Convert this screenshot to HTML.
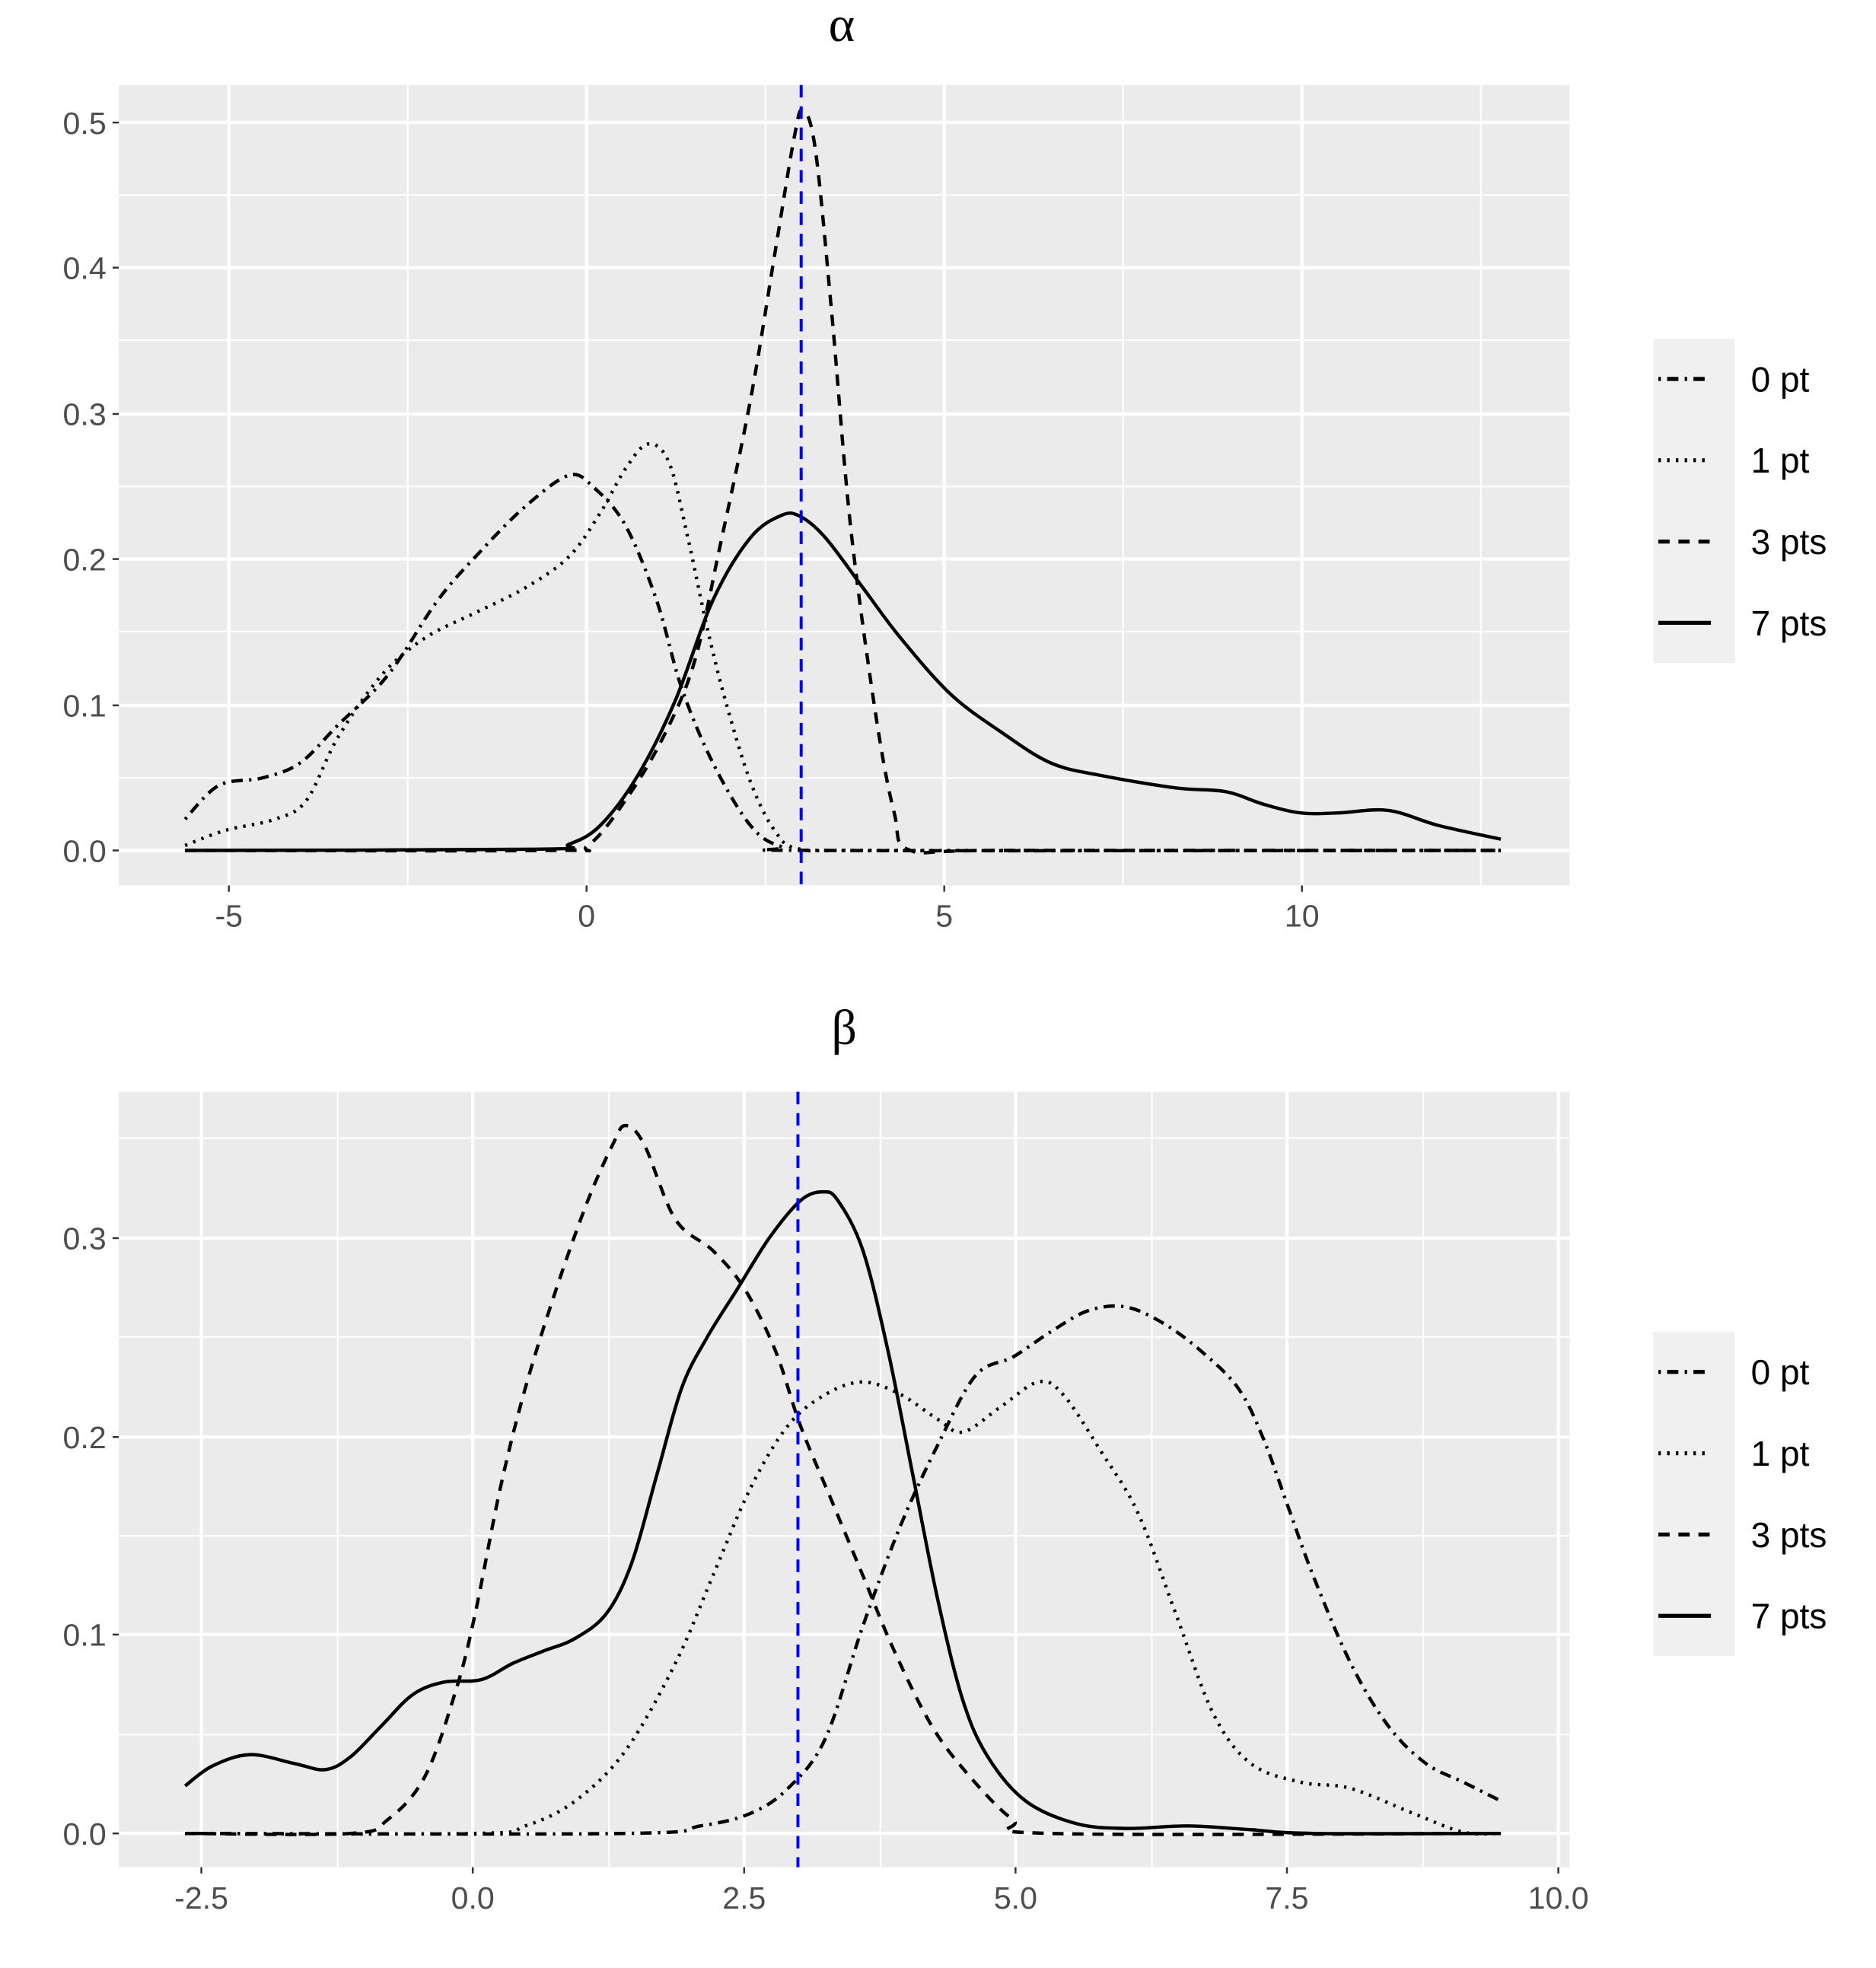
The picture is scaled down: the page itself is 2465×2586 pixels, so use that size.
<!DOCTYPE html>
<html><head><meta charset="utf-8"><style>
html,body{margin:0;padding:0;background:#fff;}
svg{display:block;}
.t{font-family:"Liberation Sans",sans-serif;font-size:25px;fill:#4d4d4d;}
.l{font-family:"Liberation Sans",sans-serif;font-size:28px;fill:#000;}
.ti{font-family:"Liberation Serif","DejaVu Serif",serif;font-size:40px;fill:#000;}
</style></head><body>
<svg id="s" width="2465" height="2586" viewBox="0 0 1500 1573.6" preserveAspectRatio="none" xmlns="http://www.w3.org/2000/svg">
<rect width="1500" height="1574" fill="#fff"/>
<text class="ti" x="673" y="33" text-anchor="middle">α</text>
<text class="ti" x="675" y="835" text-anchor="middle">β</text>
<g id="g"></g>
</svg>
<script>
const g=document.getElementById('g');const NS='http://www.w3.org/2000/svg';
function el(t,a,txt){const e=document.createElementNS(NS,t);for(const k in a)e.setAttribute(k,a[k]);if(txt!==undefined)e.textContent=txt;g.appendChild(e);return e;}
function smooth(p){let d='M'+p[0][0]+','+p[0][1];for(let i=0;i<p.length-1;i++){const p0=p[Math.max(i-1,0)],p1=p[i],p2=p[i+1],p3=p[Math.min(i+2,p.length-1)];
const c1=[p1[0]+(p2[0]-p0[0])/6,p1[1]+(p2[1]-p0[1])/6],c2=[p2[0]-(p3[0]-p1[0])/6,p2[1]-(p3[1]-p1[1])/6];d+=' C'+c1+' '+c2+' '+p2;}return d;}
const dash={'0':'2,5,9,5','1':'2,5','3':'9,7','7':''};
function series(p,k){const a={d:smooth(p),fill:'none',stroke:'#000','stroke-width':2.7};if(dash[k])a['stroke-dasharray']=dash[k];el('path',a);}
function panel(y0,y1,xs,xmin,ys,ymin,xl,yl,legY,curves,blueX){
 el('rect',{x:95,y:y0,width:1160,height:y1-y0,fill:'#ebebeb'});
 xmin.forEach(x=>el('line',{x1:x,x2:x,y1:y0,y2:y1,stroke:'#fff','stroke-width':1.3}));
 ymin.forEach(y=>el('line',{x1:95,x2:1255,y1:y,y2:y,stroke:'#fff','stroke-width':1.3}));
 xs.forEach(x=>el('line',{x1:x,x2:x,y1:y0,y2:y1,stroke:'#fff','stroke-width':2.6}));
 ys.forEach(y=>el('line',{x1:95,x2:1255,y1:y,y2:y,stroke:'#fff','stroke-width':2.6}));
 for(const k in curves)series(curves[k],k);
 el('line',{x1:blueX,x2:blueX,y1:y0,y2:y1,stroke:'#0000ff','stroke-width':2.4,'stroke-dasharray':'10,7'});
 xs.forEach((x,i)=>{el('line',{x1:x,x2:x,y1:y1,y2:y1+5,stroke:'#333','stroke-width':1.5});el('text',{class:'t',x:x,y:y1+33,'text-anchor':'middle'},xl[i]);});
 ys.forEach((y,i)=>{el('line',{x1:90,x2:95,y1:y,y2:y,stroke:'#333','stroke-width':1.5});el('text',{class:'t',x:85,y:y+9,'text-anchor':'end'},yl[i]);});
 el('rect',{x:1322,y:legY,width:65,height:259,fill:'#f0f0f0'});
 const labs=['0 pt','1 pt','3 pts','7 pts'],ks=['0','1','3','7'];
 ks.forEach((k,i)=>{const y=legY+32+i*65;const a={x1:1326,x2:1368,y1:y,y2:y,stroke:'#000','stroke-width':3.2};if(dash[k])a['stroke-dasharray']=dash[k];el('line',a);el('text',{class:'l',x:1400,y:y+10},labs[i]);});
}
panel(68,708,[183,469,755,1041],[40,326,612,898,1184],[98,214,331,447,564,680],[156,272,389,505,622],['-5','0','5','10'],['0.5','0.4','0.3','0.2','0.1','0.0'],271,{
'0':[[148,655],[175,628],[210,622],[240,610],[270,580],[310,540],[350,480],[385,440],[420,405],[455,380],[475,390],[500,420],[525,480],[545,550],[570,610],[600,660],[625,677],[660,680],[1200,680]],
'1':[[148,676],[180,664],[220,655],[245,640],[270,590],[305,540],[340,510],[380,490],[420,470],[455,445],[480,410],[500,375],[518,355],[535,370],[550,430],[565,500],[580,560],[600,625],[620,665],[640,679],[700,680],[1200,680]],
'3':[[148,680],[440,680],[470,676],[500,640],[530,590],[555,530],[575,440],[600,320],[620,200],[635,110],[642,88],[652,120],[665,250],[680,420],[700,570],[715,650],[728,680],[800,680],[1200,680]],
'7':[[148,680],[430,679],[455,675],[480,660],[510,620],[540,560],[570,480],[600,430],[625,412],[640,413],[660,430],[690,470],[720,510],[760,555],[800,585],[840,610],[880,620],[940,630],[980,633],[1010,643],[1040,650],[1070,650],[1110,648],[1150,660],[1200,671]]
},640.6);
panel(873,1493,[161,378,595,812,1029,1246],[52,270,487,704,921,1138],[990,1149,1307,1466],[910,1069,1228,1387],['-2.5','0.0','2.5','5.0','7.5','10.0'],['0.3','0.2','0.1','0.0'],1065,{
'0':[[148,1466],[500,1466],[560,1460],[600,1450],[630,1430],[660,1390],[690,1300],[720,1220],[750,1155],[780,1100],[810,1085],[840,1065],[870,1048],[900,1045],[930,1058],[960,1080],[990,1110],[1010,1150],[1030,1205],[1050,1260],[1080,1330],[1110,1380],[1140,1410],[1170,1425],[1200,1440]],
'1':[[148,1466],[380,1466],[420,1460],[460,1440],[500,1400],[540,1330],[570,1260],[600,1190],[630,1140],[660,1115],[690,1105],[720,1115],[750,1135],[770,1145],[800,1125],[830,1105],[850,1115],[880,1160],[910,1210],[940,1290],[970,1370],[1000,1410],[1040,1425],[1080,1430],[1130,1450],[1170,1465],[1200,1466]],
'3':[[148,1466],[280,1466],[310,1455],[340,1420],[365,1350],[380,1290],[400,1190],[420,1110],[445,1030],[470,960],[490,915],[500,900],[515,915],[540,975],[570,1000],[595,1030],[620,1080],[640,1140],[665,1200],[690,1260],[715,1320],[745,1380],[775,1420],[810,1455],[840,1466],[1200,1466]],
'7':[[148,1428],[170,1412],[200,1403],[235,1410],[260,1415],[280,1405],[305,1380],[330,1355],[355,1345],[385,1343],[410,1330],[435,1320],[460,1310],[485,1290],[505,1250],[525,1180],[545,1110],[565,1070],[590,1030],[615,990],[640,960],[658,953],[670,960],[690,1000],[710,1080],[730,1180],[750,1280],[770,1360],[790,1405],[820,1440],[860,1458],[900,1462],[950,1460],[1000,1463],[1050,1466],[1200,1466]]
},638);
</script>
</body></html>
